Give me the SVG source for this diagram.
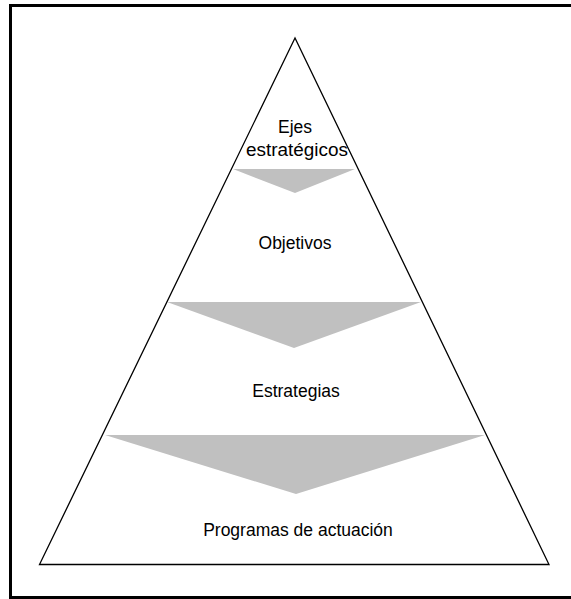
<svg xmlns="http://www.w3.org/2000/svg" width="571" height="599" viewBox="0 0 571 599">
<style>
.frame{fill:none;stroke:#000;stroke-width:3}
.pyr{fill:#fff;stroke:#000;stroke-width:1.3;stroke-linejoin:miter}
.arrow{fill:#c0c0c0;stroke:none}
.lbl{font-family:"Liberation Sans",Arial,sans-serif;font-size:17.5px;fill:#000;text-anchor:middle}
</style>
<rect x="0" y="0" width="571" height="599" fill="#fff"/>
<rect class="frame" x="10.5" y="5.5" width="580" height="592"/>
<g id="pyramid">
<polygon class="pyr" points="295,38 39.5,564.5 549,564.5"/>
</g>
<g id="connectors">
<polygon class="arrow" points="233,169 355,169 295,193"/>
<polygon class="arrow" points="167,302 421,302 294,348"/>
<polygon class="arrow" points="105,435 485,435 296,494"/>
</g>
<g id="ejes">
<text class="lbl" x="295" y="133">Ejes</text>
<text class="lbl" x="297" y="156" textLength="102" lengthAdjust="spacingAndGlyphs">estratégicos</text>
</g>
<g id="objetivos">
<text class="lbl" x="295" y="249">Objetivos</text>
</g>
<g id="estrategias">
<text class="lbl" x="296" y="396.5">Estrategias</text>
</g>
<g id="programas">
<text class="lbl" x="298" y="536">Programas de actuación</text>
</g>
</svg>
